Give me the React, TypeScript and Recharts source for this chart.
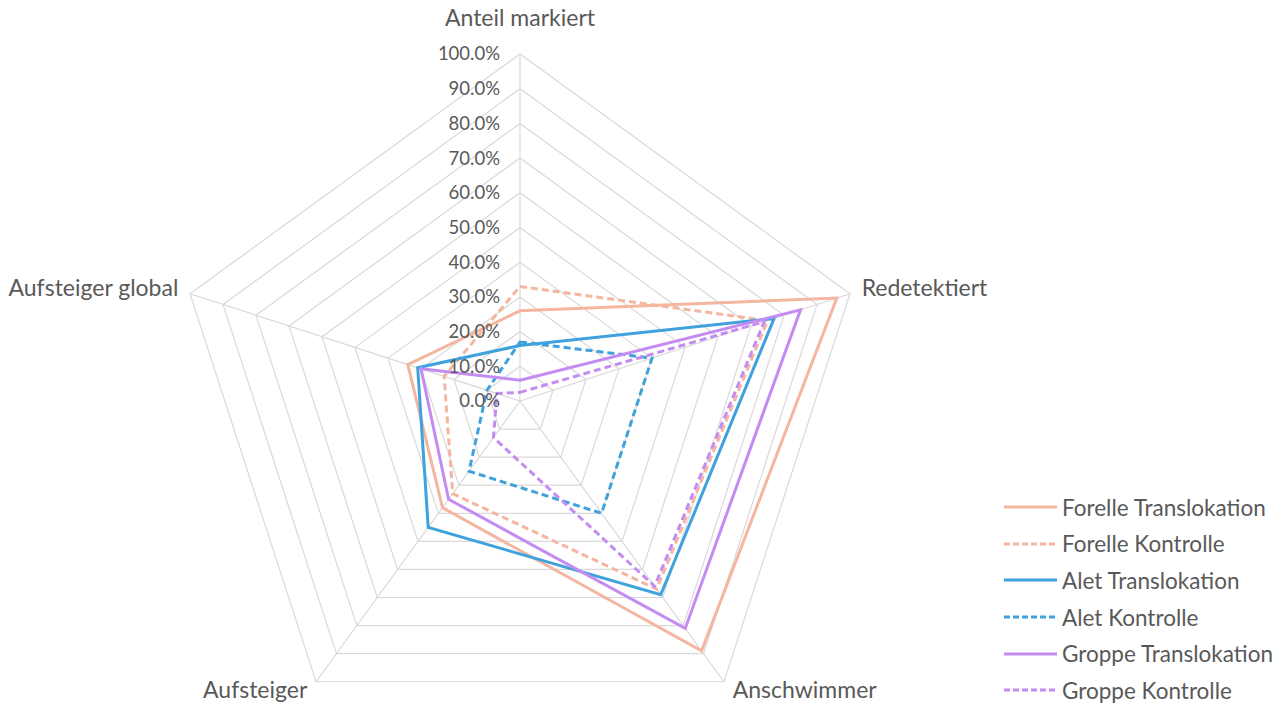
import { RadarChart, Radar, PolarGrid, PolarAngleAxis, PolarRadiusAxis, Legend } from "recharts";

const categories = ["Anteil markiert", "Redetektiert", "Anschwimmer", "Aufsteiger", "Aufsteiger global"];
const radiusTicks = [0, 0.1, 0.2, 0.3, 0.4, 0.5, 0.6, 0.7, 0.8, 0.9, 1];

const forelleTranslokation = [0.26, 0.96, 0.89, 0.38, 0.34];
const forelleKontrolle = [0.33, 0.75, 0.67, 0.33, 0.23];
const aletTranslokation = [0.16, 0.77, 0.69, 0.45, 0.31];
const aletKontrolle = [0.17, 0.4, 0.4, 0.25, 0.1];
const groppeTranslokation = [0.06, 0.85, 0.81, 0.35, 0.3];
const groppeKontrolle = [0.025, 0.74, 0.66, 0.13, 0.07];

const series = [
  { key: "ft", name: "Forelle Translokation", values: forelleTranslokation, color: "#F4B6A0", dash: undefined },
  { key: "fk", name: "Forelle Kontrolle", values: forelleKontrolle, color: "#F4B6A0", dash: "7 4" },
  { key: "at", name: "Alet Translokation", values: aletTranslokation, color: "#3FA2DC", dash: undefined },
  { key: "ak", name: "Alet Kontrolle", values: aletKontrolle, color: "#3FA2DC", dash: "7 4" },
  { key: "gt", name: "Groppe Translokation", values: groppeTranslokation, color: "#C48CF2", dash: undefined },
  { key: "gk", name: "Groppe Kontrolle", values: groppeKontrolle, color: "#C48CF2", dash: "7 4" },
];

const data = categories.map((cat, i) => {
  const row: Record<string, string | number> = { cat };
  series.forEach((s) => (row[s.key] = s.values[i]));
  return row;
});

const FONT = "Lato, 'Open Sans', sans-serif";
const TEXT = "#595959";

// offsets for the category labels, relative to the tick point
const labelPos: Record<string, { dx: number; dy: number; anchor: string }> = {
  "Anteil markiert": { dx: 0, dy: -28, anchor: "middle" },
  Redetektiert: { dx: 4, dy: -3, anchor: "start" },
  Anschwimmer: { dx: 4, dy: 2, anchor: "start" },
  Aufsteiger: { dx: -4, dy: 2, anchor: "end" },
  "Aufsteiger global": { dx: -4, dy: -3, anchor: "end" },
};

const AngleTick = (props: any) => {
  const { x, y, payload } = props;
  const p = labelPos[payload.value] || { dx: 0, dy: 0, anchor: "middle" };
  return (
    <text x={x + p.dx} y={y + p.dy} dy="0.35em" textAnchor={p.anchor} fill={TEXT} fontSize={23} fontFamily={FONT}>
      {payload.value}
    </text>
  );
};

const RadiusTick = (props: any) => {
  const { x, y, payload } = props;
  return (
    <text x={x - 20} y={y} dy="0.35em" textAnchor="end" fill={TEXT} fontSize={18.5} fontFamily={FONT}>
      {(payload.value * 100).toFixed(1)}%
    </text>
  );
};

const LegendContent = () => (
  <div style={{ fontFamily: FONT }}>
    {series.map((s) => (
      <div key={s.key} style={{ display: "flex", alignItems: "center", height: 36.6 }}>
        <svg width={56} height={10} style={{ marginRight: 3 }}>
          <line x1={1} y1={5} x2={54} y2={5} stroke={s.color} strokeWidth={3} strokeDasharray={s.dash ? "6 3" : undefined} />
        </svg>
        <span style={{ fontSize: 22.5, color: TEXT, whiteSpace: "nowrap" }}>{s.name}</span>
      </div>
    ))}
  </div>
);

export default function App() {
  return (
    <div style={{ position: "absolute", left: 0, top: 0, width: 1288, height: 704, background: "#fff" }}>
      <RadarChart width={1288} height={704} data={data} cx={520} cy={401} outerRadius={347} margin={{ top: 0, right: 0, bottom: 0, left: 0 }}>
        <PolarGrid gridType="polygon" stroke="#D9D9D9" strokeWidth={1.2} />
        <PolarAngleAxis dataKey="cat" tick={<AngleTick />} tickLine={false} axisLine={false} />
        <PolarRadiusAxis
          angle={90}
          type="number"
          domain={[0, 1]}
          ticks={radiusTicks}
          tickCount={11}
          tick={<RadiusTick />}
          axisLine={false}
          tickLine={false}
        />
        {series.map((s) => (
          <Radar
            key={s.key}
            name={s.name}
            dataKey={s.key}
            stroke={s.color}
            strokeWidth={3}
            strokeDasharray={s.dash}
            fill="none"
            fillOpacity={0}
            dot={false}
            isAnimationActive={false}
          />
        ))}
        <Legend content={<LegendContent />} wrapperStyle={{ left: 1003, top: 489, width: 285 }} />
      </RadarChart>
    </div>
  );
}
